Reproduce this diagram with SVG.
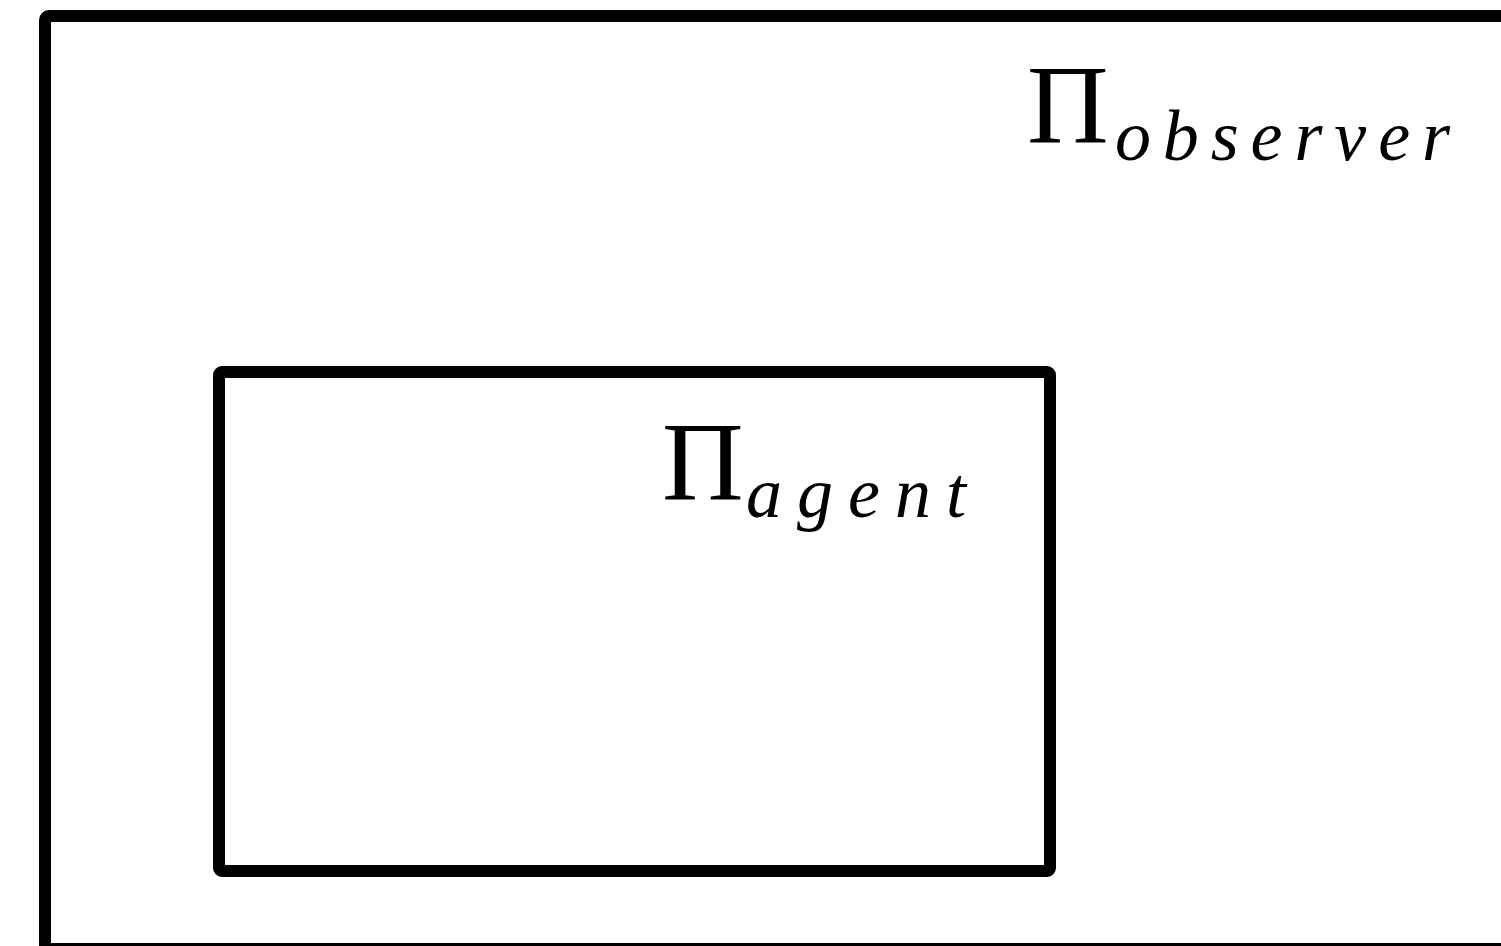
<svg xmlns="http://www.w3.org/2000/svg" width="1501" height="946" viewBox="0 0 1501 946">
  <style>
    .box { fill: none; stroke: #000; stroke-width: 12; stroke-linejoin: round; }
    .pi { font-family: "Liberation Serif", serif; font-size: 113px; fill: #000; }
    .sub { font-family: "Liberation Serif", serif; font-style: italic; font-size: 72px; fill: #000; }
  </style>
  <rect width="1501" height="946" fill="#fff"/>
  <g id="observer">
    <rect class="box" x="45" y="16" width="1600" height="933" rx="4"/>
    <text class="pi" x="1027" y="143">Π</text>
    <text class="sub" x="1115" y="160" textLength="335" lengthAdjust="spacing">observer</text>
  </g>
  <g id="agent">
    <rect class="box" x="219" y="372" width="831" height="499" rx="3"/>
    <text class="pi" x="662" y="500">Π</text>
    <text class="sub" x="746" y="517" textLength="220" lengthAdjust="spacing">agent</text>
  </g>
  <g id="connectors"/>
</svg>
